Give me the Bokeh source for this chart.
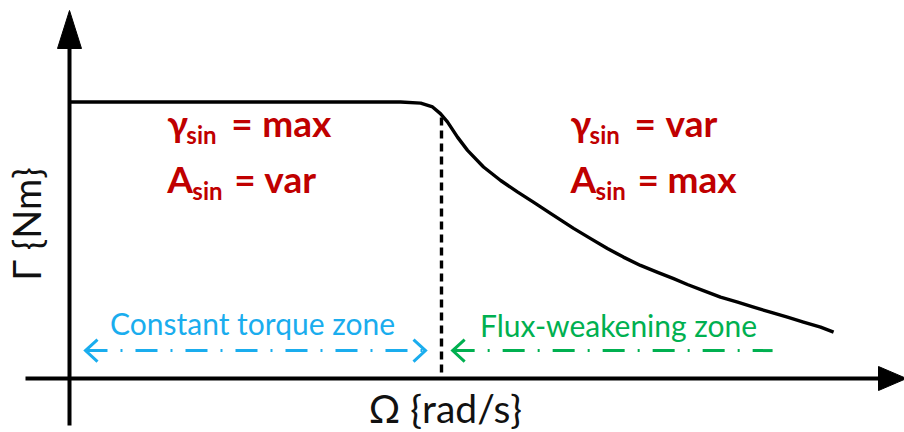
from bokeh.plotting import figure
from bokeh.models import Range1d
from bokeh.core.properties import value
from bokeh.embed import file_html
from bokeh.resources import INLINE
import math

# Torque-speed envelope (normalised: base speed = 1, rated torque = 1)
omega = [0.0, 0.890, 0.944, 0.976, 0.997, 1.016, 1.043, 1.070, 1.113, 1.159,
         1.204, 1.247, 1.293, 1.355, 1.401, 1.446, 1.489, 1.535, 1.581, 1.624,
         1.661, 1.704, 1.750, 1.796, 1.839, 1.884, 1.930, 1.973, 2.019, 2.054]
torque = [1.0, 1.0, 0.996, 0.982, 0.958, 0.928, 0.873, 0.825, 0.765, 0.716,
          0.675, 0.638, 0.597, 0.543, 0.506, 0.470, 0.439, 0.409, 0.384, 0.361,
          0.340, 0.318, 0.294, 0.276, 0.258, 0.240, 0.222, 0.204, 0.186, 0.168]

base_speed = 1.0
base_line_top = 0.944

# Operating zones: (start speed, end speed)
zone_names = ["Constant torque zone", "Flux-weakening zone"]
zone_start = [0.043, 1.030]
zone_end = [0.957, 1.890]
zone_level = 0.101
zone_text_omega = [0.492, 1.476]
zone_text_torque = [0.159, 0.150]

# Control-parameter annotations
ctrl_param = ["γ", "A", "γ", "A"]
ctrl_value = ["max", "var", "var", "max"]
ctrl_omega = [0.263, 0.263, 1.347, 1.347]
ctrl_torque = [0.870, 0.668, 0.870, 0.668]

x_label = "Ω {rad/s}"
y_label = "Γ {Nm}"

W, H = 904, 432
X_SCALE, Y_SCALE = 372.0, 276.5     # pixels per unit
X0_PX, Y0_PX = 69.0, 378.0          # origin in pixels

def dx(px):
    return px / X_SCALE

def dy(px):
    return px / Y_SCALE

p = figure(width=W, height=H, output_backend="svg", toolbar_location=None,
           x_range=Range1d(-X0_PX / X_SCALE, (W - X0_PX) / X_SCALE),
           y_range=Range1d(-(H - Y0_PX) / Y_SCALE, Y0_PX / Y_SCALE),
           min_border=0, outline_line_color=None)
p.axis.visible = False
p.grid.visible = False
p.background_fill_color = "white"
p.border_fill_color = "white"

RED = "#C00000"
BLUE = "#1AADEE"
GREEN = "#00B050"
FONT = value("Lato")

def lift(size):
    # raise the text so its alphabetic baseline sits on the anchor point
    return -round(0.4 * size)

# Axes drawn as arrows
y_tip = dy(Y0_PX - 10)
x_tip = dx(W + 2 - X0_PX)
p.segment(x0=[0, dx(25 - X0_PX)], y0=[-dy(425 - Y0_PX), 0],
          x1=[0, x_tip - dx(20)], y1=[y_tip - dy(30), 0],
          line_color="black", line_width=4)
p.patch([0, -dx(12), dx(12)], [y_tip, y_tip - dy(38), y_tip - dy(38)],
        fill_color="black", line_color="black")
p.patch([x_tip, x_tip - dx(28), x_tip - dx(28)], [0, dy(12), -dy(12)],
        fill_color="black", line_color="black")

# Envelope
p.line(omega, torque, line_color="black", line_width=3.4, line_join="round")
p.segment(x0=[base_speed], y0=[base_line_top], x1=[base_speed], y1=[dy(6)],
          line_color="black", line_width=3.4, line_dash="8 5")

# Zone arrows
zone_colors = [BLUE, GREEN]
for i in range(2):
    p.segment(x0=[zone_start[i]], y0=[zone_level], x1=[zone_end[i]], y1=[zone_level],
              line_color=zone_colors[i], line_width=3, line_dash="22 13 2 13")
# open arrowheads: both ends on the first zone, start only on the second
heads = [(zone_start[0], 1), (zone_end[0], -1), (zone_start[1], 1)]
hx, hy = [], []
for xs, d in heads:
    hx.append([xs + d * dx(12), xs, xs + d * dx(12)])
    hy.append([zone_level + dy(11), zone_level, zone_level - dy(11)])
p.multi_line(hx, hy, line_color=[BLUE, BLUE, GREEN], line_width=3,
             line_join="miter")

p.text(x=zone_text_omega, y=zone_text_torque, text=zone_names,
       text_color=zone_colors, text_font=FONT, text_font_size="30px",
       y_offset=lift(30), text_align="center", text_baseline="alphabetic")

# Control parameters: symbol, subscript, "= value"
MAIN, SUB = 37, 24
p.text(x=ctrl_omega, y=ctrl_torque, text=ctrl_param, text_color=RED,
       y_offset=lift(MAIN), text_font=FONT, text_font_size=f"{MAIN}px",
       text_font_style="bold", text_baseline="alphabetic")
sub_off = [19 if s == "γ" else 25 for s in ctrl_param]
p.text(x=ctrl_omega, y=ctrl_torque, text=["sin"] * 4, text_color=RED,
       x_offset=sub_off, y_offset=7 + lift(SUB),
       text_font=FONT, text_font_size=f"{SUB}px", text_font_style="bold",
       text_baseline="alphabetic")
eq_off = [64 if s == "γ" else 67 for s in ctrl_param]
p.text(x=ctrl_omega, y=ctrl_torque, text=["="] * 4, text_color=RED,
       x_offset=eq_off, y_offset=lift(MAIN), text_font=FONT,
       text_font_size=f"{MAIN}px", text_font_style="bold",
       text_baseline="alphabetic")
val_off = [95 if s == "γ" else 97 for s in ctrl_param]
p.text(x=ctrl_omega, y=ctrl_torque, text=ctrl_value, text_color=RED,
       x_offset=val_off, y_offset=lift(MAIN), text_font=FONT,
       text_font_size=f"{MAIN}px", text_font_style="bold",
       text_baseline="alphabetic")

# Axis titles
p.text(x=[dx(444 - X0_PX)], y=[-dy(423 - Y0_PX)], text=[x_label],
       y_offset=lift(39), text_font=FONT, text_font_size="39px",
       text_color="#111111", text_align="center", text_baseline="alphabetic")
p.text(x=[dx(40 - X0_PX)], y=[dy(Y0_PX - 224)], text=[y_label], angle=math.pi / 2,
       x_offset=lift(38), text_font=FONT, text_font_size="38px",
       text_color="#111111", text_align="center", text_baseline="alphabetic")

open("out.html", "w").write(file_html(p, INLINE))
